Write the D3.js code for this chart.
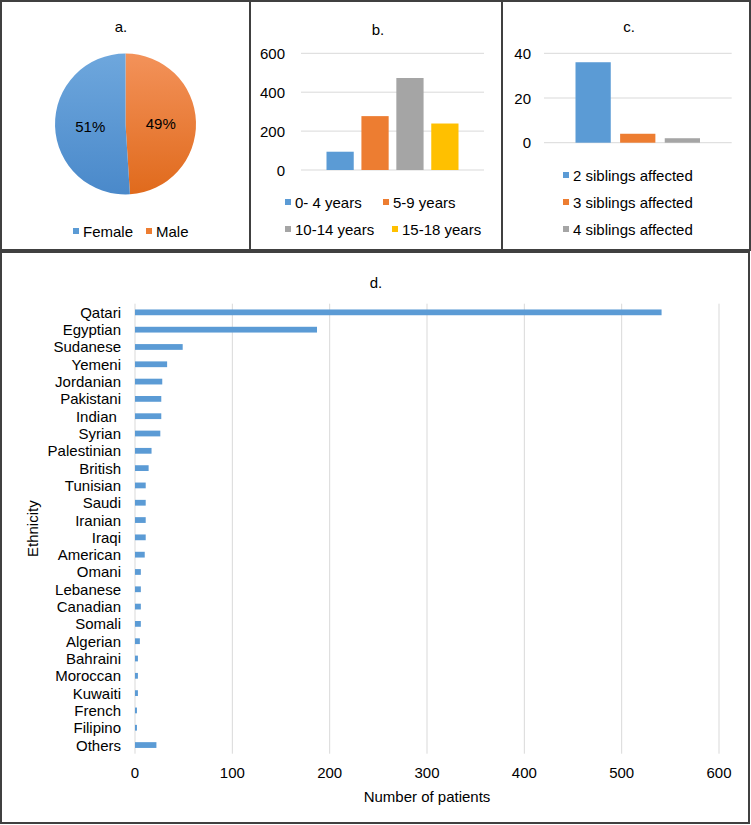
<!DOCTYPE html>
<html>
<head>
<meta charset="utf-8">
<script src="https://cdn.jsdelivr.net/npm/d3@7"></script>
<style>
  body { margin: 0; background: #fff; }
  svg { display: block; font-family: "Liberation Sans", Arial, sans-serif; }
</style>
</head>
<body>
<div id="chart"></div>
<script>
// ---- data ----
const genderLabels = ['Female', 'Male'];
const genderShares = [51, 49];

const ageGroups = ['0- 4 years', '5-9 years', '10-14 years', '15-18 years'];
const ageCounts = [94, 277, 473, 239];
const ageTicks = [0, 200, 400, 600];

const siblingGroups = ['2 siblings affected', '3 siblings affected', '4 siblings affected'];
const siblingCounts = [36, 4, 2];
const siblingTicks = [0, 20, 40];

const ethnicities = ['Qatari', 'Egyptian', 'Sudanese', 'Yemeni', 'Jordanian', 'Pakistani',
  'Indian ', 'Syrian', 'Palestinian', 'British', 'Tunisian', 'Saudi', 'Iranian', 'Iraqi',
  'American', 'Omani', 'Lebanese', 'Canadian', 'Somali', 'Algerian', 'Bahraini', 'Moroccan',
  'Kuwaiti', 'French', 'Filipino', 'Others'];
const ethnicityCounts = [541, 187, 49, 33, 28, 27, 27, 26, 17, 14, 11, 11, 11, 11,
  10, 6, 6, 6, 6, 5, 3, 3, 3, 2, 2, 22];
const patientTicks = [0, 100, 200, 300, 400, 500, 600];

const palette = ['#5B9BD5', '#ED7D31', '#A5A5A5', '#FFC000'];

const width = 751, height = 825;
const fontSize = 15;
const gridColor = '#d9d9d9';
const borderColor = '#404040';

const svg = d3.select('#chart').append('svg')
  .attr('width', width)
  .attr('height', height);

const defs = svg.append('defs');

// panel frames
const frames = [
  { x: 1, y: 1, w: 249, h: 249 },
  { x: 250, y: 1, w: 252, h: 249 },
  { x: 502, y: 1, w: 248, h: 249 },
  { x: 1, y: 252, w: 748, h: 571 }
];
svg.selectAll('rect.frame').data(frames).enter().append('rect')
  .attr('class', 'frame')
  .attr('x', d => d.x).attr('y', d => d.y)
  .attr('width', d => d.w).attr('height', d => d.h)
  .attr('fill', 'none')
  .attr('stroke', borderColor)
  .attr('stroke-width', 2);

function title(txt, x, y) {
  svg.append('text')
    .attr('x', x).attr('y', y)
    .attr('text-anchor', 'middle')
    .attr('dominant-baseline', 'central')
    .attr('font-size', fontSize)
    .attr('fill', '#000')
    .text(txt);
}

function legend(items, positions) {
  const g = svg.append('g');
  items.forEach((label, i) => {
    const p = positions[i];
    g.append('rect')
      .attr('x', p.x).attr('y', p.y - 3)
      .attr('width', 6).attr('height', 6)
      .attr('fill', palette[i]);
    g.append('text')
      .attr('x', p.x + 10).attr('y', p.y)
      .attr('dominant-baseline', 'central')
      .attr('font-size', fontSize)
      .attr('fill', '#000')
      .text(label);
  });
}

// ---- a. pie ----
title('a.', 121, 26);
const pieCx = 125.5, pieCy = 124, pieR = 70.5;
const shades = [['#6ea7dd', '#4a89ca'], ['#f3925a', '#e06a1c']];
shades.forEach((s, i) => {
  const lg = defs.append('linearGradient')
    .attr('id', 'pieGrad' + i)
    .attr('x1', 0).attr('y1', 0).attr('x2', 0).attr('y2', 1);
  lg.append('stop').attr('offset', '0%').attr('stop-color', s[0]);
  lg.append('stop').attr('offset', '100%').attr('stop-color', s[1]);
});
const genderData = genderLabels.map((l, i) => ({ label: l, value: genderShares[i], idx: i }));
// Male runs clockwise from 12 o'clock, Female fills the rest
const pie = d3.pie().sort(null).value(d => d.value);
const slices = pie(genderData.slice().reverse());
const arc = d3.arc().innerRadius(0).outerRadius(pieR);
const labelArc = d3.arc().innerRadius(pieR * 0.5).outerRadius(pieR * 0.5);
const pieG = svg.append('g').attr('transform', 'translate(' + pieCx + ',' + pieCy + ')');
pieG.selectAll('path').data(slices).enter().append('path')
  .attr('d', arc)
  .attr('fill', d => 'url(#pieGrad' + d.data.idx + ')');
pieG.selectAll('text').data(slices).enter().append('text')
  .attr('transform', d => {
    const c = labelArc.centroid(d);
    return 'translate(' + c[0] + ',' + (c[1] + 1) + ')';
  })
  .attr('text-anchor', 'middle')
  .attr('dominant-baseline', 'central')
  .attr('font-size', fontSize)
  .attr('fill', '#000')
  .text(d => d.data.value + '%');
legend(genderLabels, [{ x: 73, y: 231 }, { x: 146, y: 231 }]);

// ---- b. age groups ----
title('b.', 378, 29);
const bY = d3.scaleLinear().domain([0, 600]).range([170, 53.3]);
const bX = d3.scaleBand().domain(ageGroups).range([326.5, 458.5]).paddingInner(0.22);
const bG = svg.append('g');
bG.selectAll('line').data(ageTicks).enter().append('line')
  .attr('x1', 301).attr('x2', 484)
  .attr('y1', d => bY(d)).attr('y2', d => bY(d))
  .attr('stroke', gridColor).attr('stroke-width', 1);
bG.selectAll('text').data(ageTicks).enter().append('text')
  .attr('x', 285).attr('y', d => bY(d))
  .attr('text-anchor', 'end')
  .attr('dominant-baseline', 'central')
  .attr('font-size', fontSize)
  .text(d => d);
bG.selectAll('rect').data(ageGroups).enter().append('rect')
  .attr('x', d => bX(d))
  .attr('width', bX.bandwidth())
  .attr('y', (d, i) => bY(ageCounts[i]))
  .attr('height', (d, i) => bY(0) - bY(ageCounts[i]))
  .attr('fill', (d, i) => palette[i]);
legend(ageGroups, [{ x: 285, y: 202 }, { x: 383, y: 202 }, { x: 285, y: 229 }, { x: 392, y: 229 }]);

// ---- c. siblings ----
title('c.', 629, 26);
const cY = d3.scaleLinear().domain([0, 40]).range([142.7, 53.3]);
const cX = d3.scaleBand().domain(siblingGroups).range([575.5, 700]).paddingInner(0.21);
const cG = svg.append('g');
cG.selectAll('line').data(siblingTicks).enter().append('line')
  .attr('x1', 544).attr('x2', 731.7)
  .attr('y1', d => cY(d)).attr('y2', d => cY(d))
  .attr('stroke', gridColor).attr('stroke-width', 1);
cG.selectAll('text').data(siblingTicks).enter().append('text')
  .attr('x', 531).attr('y', d => cY(d))
  .attr('text-anchor', 'end')
  .attr('dominant-baseline', 'central')
  .attr('font-size', fontSize)
  .text(d => d);
cG.selectAll('rect').data(siblingGroups).enter().append('rect')
  .attr('x', d => cX(d))
  .attr('width', cX.bandwidth())
  .attr('y', (d, i) => cY(siblingCounts[i]))
  .attr('height', (d, i) => cY(0) - cY(siblingCounts[i]))
  .attr('fill', (d, i) => palette[i]);
legend(siblingGroups, [{ x: 563, y: 175 }, { x: 563, y: 202 }, { x: 563, y: 229 }]);

// ---- d. ethnicity ----
title('d.', 376, 282);
const dTop = 303.7, dBottom = 753.7;
const dX = d3.scaleLinear().domain([0, 600]).range([135, 719]);
const dY = d3.scaleBand().domain(ethnicities).range([dTop, dBottom])
  .paddingInner(2 / 3).paddingOuter(1 / 3);
const dG = svg.append('g');
dG.selectAll('line').data(patientTicks).enter().append('line')
  .attr('x1', d => dX(d)).attr('x2', d => dX(d))
  .attr('y1', dTop).attr('y2', dBottom)
  .attr('stroke', gridColor).attr('stroke-width', 1);
dG.selectAll('text.tick').data(patientTicks).enter().append('text')
  .attr('class', 'tick')
  .attr('x', d => dX(d)).attr('y', 772)
  .attr('text-anchor', 'middle')
  .attr('dominant-baseline', 'central')
  .attr('font-size', fontSize)
  .text(d => d);
dG.selectAll('rect').data(ethnicities).enter().append('rect')
  .attr('x', dX(0))
  .attr('y', d => dY(d))
  .attr('height', dY.bandwidth())
  .attr('width', (d, i) => dX(ethnicityCounts[i]) - dX(0))
  .attr('fill', palette[0]);
dG.selectAll('text.cat').data(ethnicities).enter().append('text')
  .attr('class', 'cat')
  .attr('x', 121)
  .attr('y', d => dY(d) + dY.bandwidth() / 2)
  .attr('text-anchor', 'end')
  .attr('dominant-baseline', 'central')
  .attr('font-size', fontSize)
  .style('white-space', 'pre')
  .text(d => d);
dG.append('text')
  .attr('x', (dX(0) + dX(600)) / 2).attr('y', 796)
  .attr('text-anchor', 'middle')
  .attr('dominant-baseline', 'central')
  .attr('font-size', fontSize)
  .text('Number of patients');
dG.append('text')
  .attr('transform', 'translate(32,' + (dTop + dBottom) / 2 + ') rotate(-90)')
  .attr('text-anchor', 'middle')
  .attr('dominant-baseline', 'central')
  .attr('font-size', fontSize)
  .text('Ethnicity');
</script>
</body>
</html>
